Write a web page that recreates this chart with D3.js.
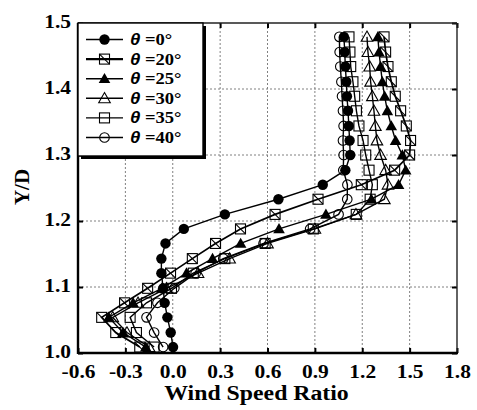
<!DOCTYPE html>
<html>
<head>
<meta charset="utf-8">
<script src="https://cdn.jsdelivr.net/npm/d3@7"></script>
<style>
  html, body { margin: 0; padding: 0; background: #fff; }
  svg { display: block; }
</style>
</head>
<body>
<svg id="chart" width="477" height="410"></svg>
<script>
// ---- data ----
const yLevels = [1.009,1.031,1.054,1.076,1.098,1.121,1.143,1.166,1.188,1.210,1.233,1.255,1.277,1.300,1.322,1.344,1.367,1.389,1.411,1.434,1.456,1.479];
const theta0  = [0.002,-0.013,-0.034,-0.051,-0.061,-0.072,-0.072,-0.046,0.070,0.330,0.669,0.950,1.093,1.124,1.120,1.115,1.110,1.103,1.099,1.093,1.089,1.084];
const theta20 = [-0.209,-0.361,-0.450,-0.305,-0.159,-0.014,0.124,0.271,0.429,0.648,0.920,1.194,1.405,1.500,1.506,1.479,1.443,1.409,1.384,1.363,1.348,1.338];
const theta25 = [-0.171,-0.315,-0.405,-0.251,-0.069,0.087,0.252,0.430,0.673,0.970,1.258,1.430,1.475,1.454,1.411,1.384,1.359,1.342,1.327,1.316,1.306,1.299];
const theta30 = [-0.150,-0.290,-0.380,-0.220,-0.040,0.160,0.360,0.600,0.900,1.160,1.340,1.363,1.348,1.316,1.293,1.283,1.274,1.264,1.253,1.247,1.236,1.230];
const theta35 = [-0.118,-0.230,-0.270,-0.166,-0.008,0.130,0.330,0.585,0.890,1.162,1.250,1.264,1.243,1.222,1.205,1.179,1.163,1.152,1.141,1.127,1.122,1.116];
const theta40 = [-0.061,-0.118,-0.166,-0.097,0.010,0.145,0.320,0.575,0.870,1.050,1.105,1.106,1.080,1.082,1.078,1.082,1.078,1.072,1.068,1.061,1.057,1.055];

const seriesNames = ["=0°","=20°","=25°","=30°","=35°","=40°"];
const seriesValues = [theta0, theta20, theta25, theta30, theta35, theta40];
const seriesMarkers = ["filledCircle","slashSquare","filledTriangle","openTriangle","openSquare","openCircle"];

const xTickValues = [-0.6,-0.3,0.0,0.3,0.6,0.9,1.2,1.5,1.8];
const xTickLabels = ["-0.6","-0.3","0.0","0.3","0.6","0.9","1.2","1.5","1.8"];
const yTickValues = [1.0,1.1,1.2,1.3,1.4,1.5];
const yTickLabels = ["1.0","1.1","1.2","1.3","1.4","1.5"];
const xTitle = "Wind Speed Ratio";
const yTitle = "Y/D";

// ---- layout ----
const L = 78, R = 457, T = 23, B = 353;
const SX = 1.16;             // horizontal stretch of the text
const serif = "'Liberation Serif', 'Times New Roman', serif";
const sans = "'Liberation Sans', Arial, sans-serif";

const svg = d3.select("#chart");
const x = d3.scaleLinear().domain([-0.6, 1.8]).range([L, R]);
const y = d3.scaleLinear().domain([1.0, 1.5]).range([B, T]);

// gridlines
const grid = svg.append("g").attr("stroke", "#808080").attr("stroke-width", 1).attr("stroke-dasharray", "2,2");
grid.selectAll("line.vx").data(xTickValues.slice(1, -1)).join("line")
  .attr("x1", d => x(d)).attr("x2", d => x(d)).attr("y1", T).attr("y2", B);
grid.selectAll("line.hy").data(yTickValues.slice(1, -1)).join("line")
  .attr("x1", L).attr("x2", R).attr("y1", d => y(d)).attr("y2", d => y(d));

// axes
function styleAxis(g) {
  g.select(".domain").remove();
  g.selectAll(".tick line").attr("stroke", "#000").attr("stroke-width", 2);
  g.selectAll(".tick text").attr("fill", "#000").attr("font-family", serif)
    .attr("font-weight", "bold").attr("font-size", 18.5);
}
const xLab = d => xTickLabels[xTickValues.indexOf(d)];
const yLab = d => yTickLabels[yTickValues.indexOf(d)];

svg.append("g").attr("transform", `translate(0,${B})`)
  .call(d3.axisBottom(x).tickValues(xTickValues).tickFormat(xLab).tickSizeInner(-5).tickSizeOuter(0).tickPadding(12.3))
  .call(styleAxis)
  .call(g => g.selectAll(".tick text").attr("transform", `scale(${SX},1)`));

svg.append("g").attr("transform", `translate(${L},0)`)
  .call(d3.axisLeft(y).tickValues(yTickValues).tickFormat(yLab).tickSizeInner(-5).tickSizeOuter(0).tickPadding(6))
  .call(styleAxis)
  .call(g => g.selectAll(".tick text").attr("dy", "0.24em").attr("transform", `scale(${SX},1)`));

svg.append("g").attr("transform", `translate(0,${T})`)
  .call(d3.axisTop(x).tickValues(xTickValues).tickFormat("").tickSizeInner(-5).tickSizeOuter(0))
  .call(styleAxis);
svg.append("g").attr("transform", `translate(${R},0)`)
  .call(d3.axisRight(y).tickValues(yTickValues).tickFormat("").tickSizeInner(-5).tickSizeOuter(0))
  .call(styleAxis);

// frame
svg.append("line").attr("x1", L).attr("x2", R).attr("y1", T).attr("y2", T).attr("stroke", "#222").attr("stroke-width", 1.4);
svg.append("line").attr("x1", R).attr("x2", R).attr("y1", T).attr("y2", B).attr("stroke", "#222").attr("stroke-width", 1.4);
svg.append("line").attr("x1", L).attr("x2", R + 1).attr("y1", B).attr("y2", B).attr("stroke", "#000").attr("stroke-width", 2.4);
svg.append("line").attr("x1", L).attr("x2", L).attr("y1", T).attr("y2", B + 1).attr("stroke", "#000").attr("stroke-width", 2.4);

// markers
function drawMarker(g, type, cx, cy) {
  const s = 5;
  if (type === "filledCircle") {
    g.append("circle").attr("cx", cx).attr("cy", cy).attr("r", 5.2).attr("fill", "#000");
  } else if (type === "openCircle") {
    g.append("circle").attr("cx", cx).attr("cy", cy).attr("r", 4.8).attr("fill", "none").attr("stroke", "#000").attr("stroke-width", 1.1);
  } else if (type === "filledTriangle" || type === "openTriangle") {
    const pts = [[cx, cy - 5.8], [cx + 5.8, cy + 4.4], [cx - 5.8, cy + 4.4]];
    const p = g.append("polygon").attr("points", pts.map(q => q.join(",")).join(" "));
    if (type === "filledTriangle") p.attr("fill", "#000");
    else p.attr("fill", "none").attr("stroke", "#000").attr("stroke-width", 1.1);
  } else if (type === "openSquare" || type === "slashSquare") {
    g.append("rect").attr("x", cx - s).attr("y", cy - s).attr("width", 2 * s).attr("height", 2 * s)
      .attr("fill", "none").attr("stroke", "#000").attr("stroke-width", 1.1);
    if (type === "slashSquare") {
      g.append("line").attr("x1", cx - s).attr("y1", cy - s).attr("x2", cx + s).attr("y2", cy + s)
        .attr("stroke", "#000").attr("stroke-width", 1.1);
    }
  }
}

// series (draw 40° first so 0° sits on top)
const plot = svg.append("g");
const line = d3.line().x(d => x(d[0])).y(d => y(d[1]));
for (let k = seriesValues.length - 1; k >= 0; k--) {
  const pts = seriesValues[k].map((v, i) => [v, yLevels[i]]);
  const g = plot.append("g");
  g.append("path").datum(pts).attr("d", line).attr("fill", "none").attr("stroke", "#000")
    .attr("stroke-width", k === 1 ? 1.7 : 1.4);
  pts.forEach(p => drawMarker(g, seriesMarkers[k], x(p[0]), y(p[1])));
}

// legend
const lg = svg.append("g");
const lx0 = L, ly0 = T, lw = 125, lh = 133;
lg.append("rect").attr("x", lx0 + 3).attr("y", ly0 + 3).attr("width", lw).attr("height", lh).attr("fill", "#000");
lg.append("rect").attr("x", lx0).attr("y", ly0).attr("width", lw).attr("height", lh)
  .attr("fill", "#fff").attr("stroke", "#000").attr("stroke-width", 1.4);
seriesNames.forEach((name, k) => {
  const cy = 39.5 + k * 19.6;
  lg.append("line").attr("x1", 86).attr("x2", 123).attr("y1", cy).attr("y2", cy)
    .attr("stroke", "#000").attr("stroke-width", k === 1 ? 2.2 : 1.4);
  drawMarker(lg, seriesMarkers[k], 104.5, cy);
  const t = lg.append("text").attr("transform", `translate(130,${cy + 5.5}) scale(${SX},1)`)
    .attr("font-size", 16).attr("font-weight", "bold").attr("fill", "#000");
  t.append("tspan").attr("font-family", sans).attr("font-style", "italic").text("θ");
  t.append("tspan").attr("font-family", serif).text(" " + name);
});

// axis titles
svg.append("text").attr("transform", `translate(256.5,399.5) scale(${SX},1)`)
  .attr("text-anchor", "middle").attr("font-family", serif).attr("font-weight", "bold")
  .attr("font-size", 20.5).attr("fill", "#000").text(xTitle);
svg.append("text").attr("transform", `translate(29,187) rotate(-90)`)
  .attr("text-anchor", "middle").attr("font-family", serif).attr("font-weight", "bold")
  .attr("font-size", 21).attr("fill", "#000").text(yTitle);
</script>
</body>
</html>
